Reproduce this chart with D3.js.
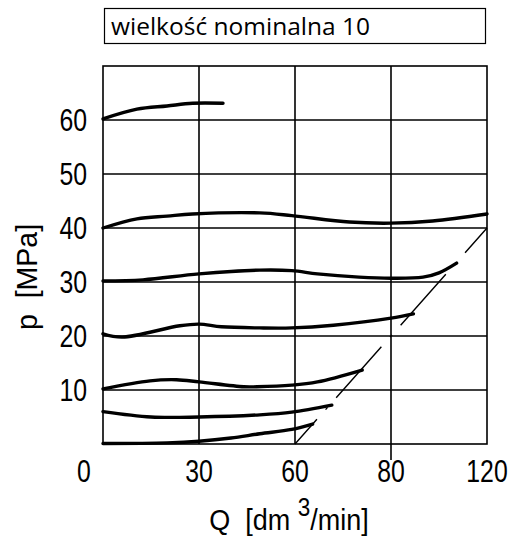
<!DOCTYPE html>
<html>
<head>
<meta charset="utf-8">
<script src="https://cdn.jsdelivr.net/npm/d3@7"></script>
<style>
  body { margin: 0; background: #fff; }
  text { fill: #000; white-space: pre; }
  .num { font-family: "Liberation Sans", Arial, sans-serif; font-size: 30px; }
  .ttl { font-family: "Open Sans", "Liberation Sans", sans-serif; }
</style>
</head>
<body>
<div id="main"></div>
<script>
// pressure p [MPa] against flow Q [dm3/min], one curve per setting
var xTicks = [0, 30, 60, 90, 120];
var xTickLabels = ['0', '30', '60', '80', '120'];   // the figure prints 80 at the 4th line
var yTicks = [10, 20, 30, 40, 50, 60];

var c60 = [[0, 60.2], [10.6, 62.0], [20, 62.6], [28, 63.1], [37.5, 63.1]];
var c40 = [[0, 40], [10.6, 41.7], [20, 42.2], [28, 42.6], [49, 42.8], [59, 42.3], [77, 41.1], [90, 40.9], [103, 41.3], [120, 42.6]];
var c30 = [[0, 30.2], [12.5, 30.4], [30, 31.5], [49, 32.2], [59, 32.1], [67, 31.5], [80, 30.9], [90, 30.7], [100, 30.9], [105, 31.7], [110.5, 33.5]];
var c20 = [[0, 20.4], [6, 19.8], [24, 21.9], [30, 22.2], [37, 21.7], [49, 21.5], [59, 21.5], [72, 22.0], [90, 23.3], [97, 24.1]];
var c10 = [[0, 10.2], [14.7, 11.7], [23, 11.9], [30, 11.5], [44, 10.6], [48, 10.6], [59, 10.9], [67, 11.5], [81, 13.7]];
var c6 = [[0, 6.0], [15, 5.0], [30, 5.0], [49, 5.4], [59, 5.9], [71.5, 7.2]];
var c0 = [[0, 0.1], [20, 0.2], [30, 0.5], [40, 1.1], [49, 1.9], [59, 2.7], [65.5, 3.7]];
var curves = [c60, c40, c30, c20, c10, c6, c0];

var limitLine = [[60, 0], [120, 40]];

var W = 512, H = 539;
var x = d3.scaleLinear().domain([0, 120]).range([103, 487]);
var y = d3.scaleLinear().domain([0, 70]).range([444, 66]);

var svg = d3.select('#main').append('svg').attr('width', W).attr('height', H);

// squeezed text, the figure uses a condensed face
function label(px, py, str, anchor, size, sx, rot) {
  var g = svg.append('g')
      .attr('transform', 'translate(' + px + ',' + py + ')' + (rot ? ' rotate(' + rot + ')' : '') + ' scale(' + sx + ',1)');
  return g.append('text').attr('class', 'num')
      .attr('text-anchor', anchor)
      .style('font-size', size + 'px')
      .text(str);
}

// title box
svg.append('rect')
    .attr('x', 104.5).attr('y', 8.5).attr('width', 381).attr('height', 35)
    .attr('fill', 'none').attr('stroke', '#000').attr('stroke-width', 1.2);
svg.append('text').attr('class', 'ttl')
    .attr('x', 111).attr('y', 35)
    .style('font-size', '24.5px')
    .style('font-weight', 500)
    .text('wielkość nominalna 10');

// grid
var grid = svg.append('g').attr('stroke', '#000').attr('stroke-width', 1.6);
grid.selectAll('line.v').data(xTicks.slice(1, 4)).enter().append('line')
    .attr('x1', function(d) { return x(d); }).attr('x2', function(d) { return x(d); })
    .attr('y1', y(70)).attr('y2', y(0));
grid.selectAll('line.h').data(yTicks).enter().append('line')
    .attr('x1', x(0)).attr('x2', x(120))
    .attr('y1', function(d) { return y(d); }).attr('y2', function(d) { return y(d); });
// the 4th vertical runs a bit below the frame
grid.append('line')
    .attr('x1', x(90)).attr('x2', x(90)).attr('y1', y(0)).attr('y2', y(0) + 16);
svg.append('rect')
    .attr('x', x(0)).attr('y', y(70)).attr('width', x(120) - x(0)).attr('height', y(0) - y(70))
    .attr('fill', 'none').attr('stroke', '#000').attr('stroke-width', 1.6);

// tick labels
xTicks.forEach(function(d, i) {
  label(i === 0 ? x(d) - 19 : x(d), 482, xTickLabels[i], 'middle', 31, 0.8);
});
yTicks.forEach(function(d) {
  label(87, y(d) + 11, d, 'end', 31, 0.8);
});

// axis titles
var xt = label(289, 530, '', 'middle', 30, 0.9);
xt.append('tspan').text('Q  [dm ');
xt.append('tspan').attr('dy', -14).style('font-size', '25px').text('3');
xt.append('tspan').attr('dy', 14).text('/min]');

label(37, 277, 'p  [MPa]', 'middle', 30, 0.95, -90);

// limit line, dash-dot
svg.append('line')
    .attr('x1', x(limitLine[0][0])).attr('y1', y(limitLine[0][1]))
    .attr('x2', x(limitLine[1][0])).attr('y2', y(limitLine[1][1]))
    .attr('stroke', '#000').attr('stroke-width', 1.4)
    .attr('stroke-dasharray', '68,13,3,13')
    .attr('stroke-dashoffset', 35);

// curves
var line = d3.line()
    .x(function(d) { return x(d[0]); })
    .y(function(d) { return y(d[1]); })
    .curve(d3.curveCatmullRom);

svg.selectAll('path.curve').data(curves).enter().append('path')
    .attr('d', line)
    .attr('fill', 'none').attr('stroke', '#000')
    .attr('stroke-width', 3.4).attr('stroke-linecap', 'round');
</script>
</body>
</html>
